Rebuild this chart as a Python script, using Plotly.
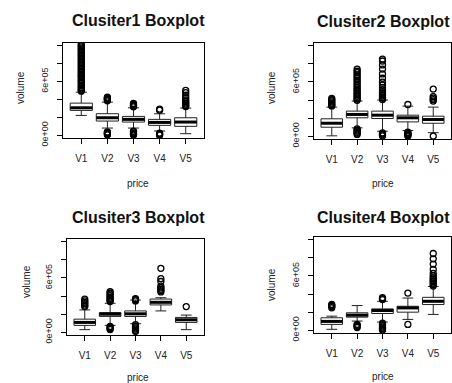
import plotly.graph_objects as go

titles = ["Clusiter1 Boxplot", "Clusiter2 Boxplot", "Clusiter3 Boxplot", "Clusiter4 Boxplot"]
categories = ["V1", "V2", "V3", "V4", "V5"]
y_tick_vals = [0, 2e5, 4e5, 6e5, 8e5, 1e6]
y_tick_text = ["0e+00", "", "", "6e+05", "", ""]
x_label = "price"
y_label = "volume"

# box statistics per cluster (rows) and variable V1..V5 (columns)
low_whisker = [
    [222000, 81000, 81000, 48000, 18000],
    [5000, 93000, 56000, 63000, 40000],
    [29000, 76000, 95000, 236000, 29000],
    [11000, 102000, 91000, 120000, 175000],
]
q1_vals = [
    [278000, 159000, 148000, 111000, 100000],
    [100000, 204000, 196000, 159000, 144000],
    [76000, 175000, 175000, 302000, 109000],
    [65000, 145000, 185000, 200000, 284000],
]
median_vals = [
    [307000, 196000, 178000, 144000, 148000],
    [144000, 241000, 233000, 204000, 185000],
    [109000, 200000, 204000, 331000, 138000],
    [98000, 167000, 218000, 247000, 320000],
]
q3_vals = [
    [359000, 241000, 211000, 178000, 196000],
    [193000, 278000, 278000, 233000, 222000],
    [145000, 218000, 236000, 367000, 164000],
    [138000, 193000, 236000, 265000, 364000],
]
high_whisker = [
    [481000, 370000, 307000, 240000, 304000],
    [322000, 389000, 400000, 333000, 322000],
    [247000, 320000, 356000, 382000, 190000],
    [156000, 273000, 320000, 356000, 484000],
]

# outliers (thousands) per variable
c1_out = [
    [492, 503, 518, 531, 548, 560, 577, 594, 608, 622, 641, 655, 668, 684, 702, 716, 733, 748,
     764, 781, 797, 812, 828, 846, 861, 877, 894, 908, 925, 941, 957, 972, 986, 1001, 1012],
    [385, 393, 401, 409, 417, 426, 5, 13, 21, 29, 37],
    [318, 327, 336, 346, 356, 3, 11, 19, 28, 39, 47],
    [281, 293, 2, 10, 17, 25],
    [321, 334, 348, 361, 377, 396, 421, 447, 476, 502],
]
c2_out = [
    [335, 344, 356, 367, 381, 393, 404, 417],
    [398, 411, 424, 441, 456, 471, 487, 506, 522, 539, 561, 579, 602, 619, 641, 662, 679, 702,
     718, 741, 21, 33, 44, 57, 69, 81],
    [406, 419, 431, 447, 461, 479, 494, 516, 539, 566, 598, 641, 689, 742, 788, 831, 852,
     4, 15, 26, 37],
    [351, 2, 11, 19, 27, 36, 45],
    [389, 404, 421, 438, 521, 2],
]
c3_out = [
    [284, 299, 316, 331, 346, 366],
    [339, 351, 363, 376, 389, 404, 421, 434, 449, 31, 43, 54, 66],
    [346, 359, 371, 9, 22, 36, 49, 64, 83],
    [446, 461, 474, 491, 509, 561, 592, 706],
    [284],
]
c4_out = [
    [249, 263, 274, 286],
    [31, 43, 54, 66],
    [339, 349, 361, 2, 13, 23, 34, 48, 61, 79],
    [411, 65],
    [489, 504, 521, 536, 549, 566, 581, 601, 629, 671, 731, 789, 848],
]
outliers = [c1_out, c2_out, c3_out, c4_out]

W, H = 452, 383
FONT = "Liberation Sans, Arial, sans-serif"
# panel plot areas in pixels: (left, right, top, bottom)
panels = [(63, 204, 43, 138), (314, 451, 43, 139), (67, 204, 239, 335), (314, 451, 237, 333)]
title_pos = [(138, 20), (383, 21), (138, 217), (383, 218)]
ytitle_pos = [(20, 88), (271, 88), (26, 282), (271, 285)]
xtitle_pos = [(138, 183), (383, 183), (138, 377), (383, 376)]

fig = go.Figure()
annotations = []
positions = list(range(1, len(categories) + 1))

for k in range(4):
    sfx = "" if k == 0 else str(k + 1)
    xa, ya = "x" + sfx, "y" + sfx
    fig.add_trace(go.Box(
        x=positions, q1=q1_vals[k], median=median_vals[k], q3=q3_vals[k],
        lowerfence=low_whisker[k], upperfence=high_whisker[k],
        width=0.85, whiskerwidth=0.5, boxpoints=False, fillcolor="white",
        line=dict(color="#222222", width=1), xaxis=xa, yaxis=ya, showlegend=False,
    ))
    mx, my = [], []
    for i, p in enumerate(positions):
        mx += [p - 0.42, p + 0.42, None]
        my += [median_vals[k][i], median_vals[k][i], None]
    fig.add_trace(go.Scatter(x=mx, y=my, mode="lines", line=dict(color="black", width=3),
                             xaxis=xa, yaxis=ya, showlegend=False, hoverinfo="skip"))
    ox, oy = [], []
    for i, p in enumerate(positions):
        for v in outliers[k][i]:
            ox.append(p)
            oy.append(v * 1000)
    fig.add_trace(go.Scatter(x=ox, y=oy, mode="markers",
                             marker=dict(symbol="circle-open", size=6, color="black",
                                         line=dict(width=1.3, color="black")),
                             xaxis=xa, yaxis=ya, showlegend=False))

    l, r, t, b = panels[k]
    common = dict(showline=True, linecolor="black", linewidth=1, mirror=True,
                  showgrid=False, zeroline=False, ticks="outside", ticklen=5,
                  tickcolor="black", automargin=False)
    fig.layout["xaxis" + sfx] = dict(domain=[l / W, r / W], anchor=ya, range=[0.3, 5.7],
                                     tickvals=positions, ticktext=categories,
                                     ticklabelstandoff=6,
                                     tickfont=dict(family=FONT, size=10, color="#222"), **common)
    fig.layout["yaxis" + sfx] = dict(domain=[1 - b / H, 1 - t / H], anchor=xa,
                                     range=[-30000, 1030000], tickvals=y_tick_vals,
                                     ticktext=y_tick_text, tickangle=-90, ticklabelstandoff=5,
                                     tickfont=dict(family=FONT, size=9, color="#222"), **common)

    tx, ty = title_pos[k]
    annotations.append(dict(text="<b>" + titles[k] + "</b>", x=tx / W, y=1 - ty / H,
                            xref="paper", yref="paper", showarrow=False,
                            xanchor="center", yanchor="middle",
                            font=dict(family=FONT, size=16, color="#111")))
    yx, yy = ytitle_pos[k]
    annotations.append(dict(text=y_label, x=yx / W, y=1 - yy / H, xref="paper", yref="paper",
                            showarrow=False, textangle=-90, xanchor="center", yanchor="middle",
                            font=dict(family=FONT, size=10, color="#222")))
    xx, xy = xtitle_pos[k]
    annotations.append(dict(text=x_label, x=xx / W, y=1 - xy / H, xref="paper", yref="paper",
                            showarrow=False, xanchor="center", yanchor="middle",
                            font=dict(family=FONT, size=10, color="#222")))

fig.update_layout(template="none", width=W, height=H, margin=dict(l=0, r=0, t=0, b=0),
                  paper_bgcolor="white", plot_bgcolor="white", annotations=annotations,
                  hovermode=False)
fig.write_html("out.html", config={"displayModeBar": False},
               post_script="document.body.style.margin='0';document.body.style.padding='0';")
